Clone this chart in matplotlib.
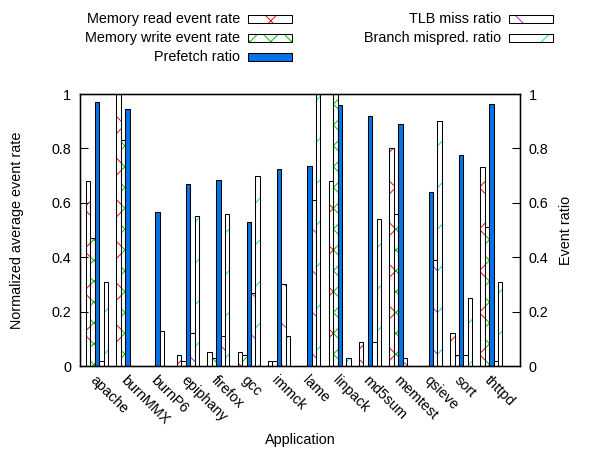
import numpy as np
import matplotlib.pyplot as plt
from matplotlib.patches import Rectangle

plt.rcParams['font.family'] = ['Liberation Sans', 'DejaVu Sans']
plt.rcParams['hatch.linewidth'] = 0.55

apps = ['apache', 'burnMMX', 'burnP6', 'epiphany', 'firefox', 'gcc', 'immck',
        'lame', 'linpack', 'md5sum', 'memtest', 'qsieve', 'sort', 'thttpd']
mem_read = [0.68, 1.00, 0.0, 0.04, 0.05, 0.05, 0.02, 0.0, 0.68, 0.09, 0.80, 0.0, 0.12, 0.73]
mem_write = [0.47, 0.83, 0.0, 0.02, 0.03, 0.04, 0.02, 0.0, 1.00, 0.0, 0.56, 0.0, 0.04, 0.51]
prefetch = [0.97, 0.945, 0.565, 0.67, 0.685, 0.53, 0.725, 0.735, 0.96, 0.92, 0.89, 0.64, 0.775, 0.965]
tlb_miss = [0.02, 0.0, 0.13, 0.12, 0.11, 0.27, 0.30, 0.61, 0.0, 0.09, 0.03, 0.39, 0.04, 0.02]
branch = [0.31, 0.0, 0.0, 0.55, 0.56, 0.70, 0.11, 1.00, 0.03, 0.54, 0.0, 0.90, 0.25, 0.31]

series = [
    ('Memory read event rate', mem_read, 'white', 'x', '#ff0000'),
    ('Memory write event rate', mem_write, 'white', 'xx', '#00c000'),
    ('Prefetch ratio', prefetch, '#0574e8', None, None),
    ('TLB miss ratio', tlb_miss, 'white', '\\', '#b020e8'),
    ('Branch mispred. ratio', branch, 'white', '/', '#00d8e0'),
]

W, H, DPI = 589, 452, 125
FS = 8.3
fig = plt.figure(figsize=(W / DPI, H / DPI), dpi=DPI)
ax = fig.add_axes([80 / W, 1 - 366 / H, 440 / W, 272 / H])

x = np.arange(len(apps))
w = 0.145
for i, (label, vals, fc, hatch, hc) in enumerate(series):
    pos = x + (i - 2) * w
    if hatch:
        ax.bar(pos, vals, w, color=fc, hatch=hatch, edgecolor=hc, linewidth=0)
        ax.bar(pos, vals, w, fill=False, edgecolor='black', linewidth=0.6)
    else:
        ax.bar(pos, vals, w, color=fc, edgecolor='black', linewidth=0.6)

ax.set_xlim(-0.56, 13.94)
ax.set_ylim(0, 1)
yt = [0, 0.2, 0.4, 0.6, 0.8, 1.0]
ytl = ['0', '0.2', '0.4', '0.6', '0.8', '1']
ax.set_yticks(yt)
ax.set_yticklabels(ytl)
ax.tick_params(axis='y', direction='in', length=4.6, width=0.6, labelsize=FS, pad=5)
ax.set_xticks(x)
ax.set_xticklabels(apps, rotation=-45, ha='left', va='top', rotation_mode='anchor')
ax.tick_params(axis='x', length=0, labelsize=FS, pad=4)
for s in ax.spines.values():
    s.set_linewidth(0.7)

ax2 = ax.twinx()
ax2.set_ylim(0, 1)
ax2.set_yticks(yt)
ax2.set_yticklabels(ytl)
ax2.tick_params(axis='y', direction='in', length=4.6, width=0.6, labelsize=FS, pad=5)

ax.set_ylabel('Normalized average event rate', fontsize=FS)
ax.yaxis.set_label_coords(-0.127, 0.5)
ax2.set_ylabel('Event ratio', fontsize=FS)
ax2.yaxis.set_label_coords(1.089, 0.5)
ax.set_xlabel('Application', fontsize=FS)
ax.xaxis.set_label_coords(0.5, -0.246)

# key, laid out gnuplot-style above the plot
rows = [19, 38, 57, 19, 38]
text_x = [240, 240, 240, 501, 501]
box_x = [248, 248, 248, 509, 509]
for i, (label, vals, fc, hatch, hc) in enumerate(series):
    yc = rows[i]
    fig.text(text_x[i] / W, 1 - yc / H, label, ha='right', va='center', fontsize=FS)
    r0 = (box_x[i] / W, 1 - (yc + 4) / H)
    rw, rh = 44 / W, 8 / H
    if hatch:
        fig.add_artist(Rectangle(r0, rw, rh, transform=fig.transFigure, facecolor=fc,
                                 hatch=hatch, edgecolor=hc, linewidth=0))
        fig.add_artist(Rectangle(r0, rw, rh, transform=fig.transFigure, fill=False,
                                 edgecolor='black', linewidth=0.6))
    else:
        fig.add_artist(Rectangle(r0, rw, rh, transform=fig.transFigure, facecolor=fc,
                                 edgecolor='black', linewidth=0.6))

fig.savefig('out.png', dpi=DPI)
